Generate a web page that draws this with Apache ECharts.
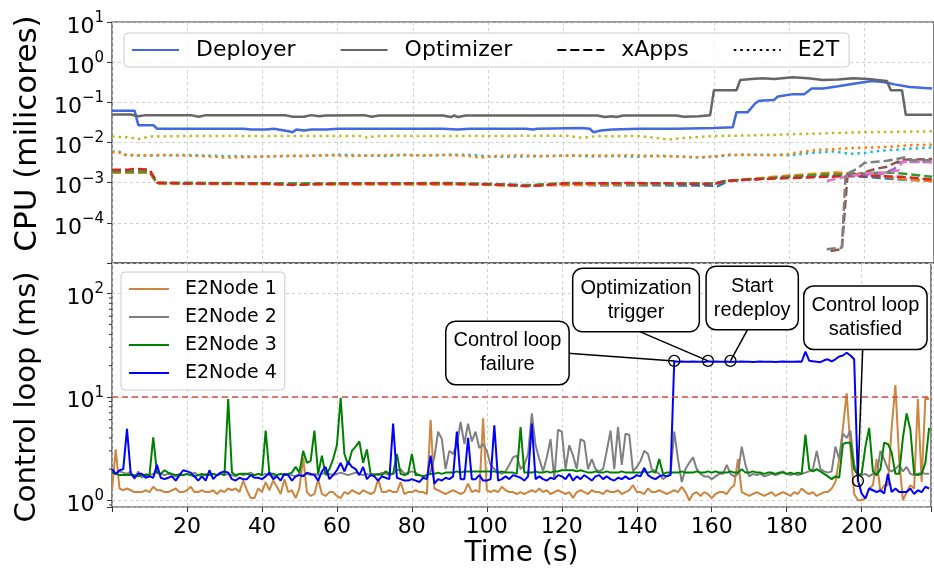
<!DOCTYPE html>
<html lang="en">
<head>
<meta charset="UTF-8">
<title>CPU usage and control loop latency</title>
<script src="https://cdn.jsdelivr.net/npm/echarts@6.0.0/dist/echarts.min.js"></script>
<style>
  html, body { margin: 0; padding: 0; background: #fff; }
  #chart { width: 934px; height: 571px; }
</style>
</head>
<body>
<div id="chart"></div>
<script>
// ---- data ----
// top panel: [time s, CPU milicores]
const deployer = [[0,0.062],[6,0.062],[7,0.027],[11,0.027],[12,0.022],[35,0.022],[37,0.021],[41,0.021],[43,0.022],[47,0.019],[48,0.018],[49,0.021],[51,0.02],[53,0.021],[57,0.021],[60,0.022],[88,0.022],[92,0.021],[95,0.022],[110,0.022],[112,0.021],[113,0.022],[125,0.023],[127,0.022],[128,0.018],[130,0.02],[133,0.021],[140,0.022],[150,0.022],[160,0.023],[165,0.024],[166,0.057],[169,0.057],[171,0.095],[172,0.11],[176,0.115],[177,0.14],[181,0.16],[184,0.16],[186,0.22],[189,0.22],[193,0.25],[198,0.3],[202,0.34],[205,0.32],[208,0.28],[212,0.24],[216,0.226],[218,0.22]];
const optimizer = [[0,0.05],[5,0.05],[7,0.045],[9,0.048],[21,0.048],[23,0.044],[25,0.048],[46,0.048],[48,0.044],[51,0.044],[53,0.048],[55,0.045],[57,0.047],[67,0.048],[69,0.044],[71,0.047],[88,0.047],[90,0.043],[91,0.047],[92,0.043],[94,0.047],[129,0.047],[131,0.043],[133,0.045],[134,0.043],[136,0.047],[150,0.047],[152,0.044],[156,0.045],[159,0.048],[160,0.2],[166,0.2],[167,0.36],[170,0.38],[173,0.4],[176,0.38],[181,0.42],[185,0.4],[189,0.36],[193,0.37],[197,0.4],[201,0.38],[206,0.34],[207,0.2],[210,0.2],[211,0.049],[218,0.049]];

const xappBlue = [[0,0.0018],[10,0.0018],[12,0.00095],[100,0.00093],[108,0.00088],[158,0.00085],[161,0.00082],[164,0.0011],[180,0.0014],[195,0.0015],[200,0.0014],[210,0.0012],[218,0.0011]];
const xappOrange = [[0,0.0018],[10,0.0018],[12,0.00095],[50,0.0009],[100,0.0009],[103,0.00085],[160,0.00095],[163,0.0011],[180,0.0015],[192,0.0018],[198,0.0017],[206,0.0014],[212,0.0012],[218,0.0011]];
const xappGreen = [[0,0.0019],[10,0.0019],[12,0.001],[30,0.00098],[50,0.00095],[90,0.00098],[100,0.00092],[110,0.00085],[120,0.00098],[160,0.00095],[163,0.0011],[180,0.0014],[190,0.0016],[196,0.0016],[200,0.0017],[206,0.0018],[210,0.0017],[218,0.0014]];
const xappRed = [[0,0.0021],[4,0.0021],[6,0.0022],[10,0.0021],[12,0.001],[20,0.00095],[40,0.00095],[48,0.00088],[52,0.0009],[60,0.00095],[90,0.00095],[95,0.00092],[105,0.00088],[110,0.00082],[114,0.00085],[120,0.00095],[140,0.00098],[150,0.00095],[160,0.00092],[163,0.0011],[170,0.0012],[180,0.0013],[190,0.0014],[200,0.0015],[210,0.0014],[218,0.0012]];
const xappPurple = [[196,0.0015],[200,0.0016],[205,0.0017],[208,0.0022],[209,0.0032],[213,0.0033],[218,0.0032]];
const xappBrown = [[191,0.00002],[194,0.000022],[195.5,0.0015],[199,0.0017],[203,0.0022],[206,0.0025],[210,0.0037],[214,0.0038],[218,0.0039]];
const xappPink = [[190,0.0011],[195,0.0014],[200,0.0017],[206,0.0018],[209,0.002],[210,0.0033],[214,0.0034],[218,0.0033]];
const xappGray = [[190,0.000022],[194,0.000024],[195,0.0016],[198,0.0022],[200,0.0031],[206,0.0035],[211,0.0043],[213,0.0036],[218,0.0036]];

const e2tOlive = [[0,0.014],[4,0.0135],[7,0.0122],[10,0.014],[20,0.0145],[40,0.0146],[66,0.0146],[68,0.013],[70,0.0145],[100,0.0145],[121,0.0148],[125,0.013],[128,0.0142],[140,0.0145],[146,0.0125],[148,0.0118],[152,0.013],[160,0.0145],[170,0.015],[180,0.016],[190,0.017],[200,0.018],[210,0.0185],[218,0.019]];
const e2tOrange = [[0,0.0058],[2,0.0056],[3,0.005],[8,0.0048],[14,0.0049],[20,0.0047],[26,0.0045],[30,0.0042],[34,0.0043],[40,0.0044],[46,0.0047],[52,0.0046],[58,0.0048],[64,0.0046],[70,0.0048],[76,0.0049],[82,0.0048],[88,0.0049],[94,0.0047],[98,0.0042],[102,0.0046],[108,0.0048],[114,0.0046],[120,0.0047],[126,0.0048],[132,0.0047],[138,0.0048],[144,0.0046],[150,0.0045],[156,0.0043],[160,0.0045],[164,0.005],[170,0.0049],[176,0.0048],[180,0.0052],[184,0.006],[188,0.0066],[192,0.0068],[196,0.0072],[200,0.0075],[204,0.0076],[208,0.008],[212,0.0085],[218,0.0088]];
const e2tCyan = [[0,0.006],[2,0.0059],[3,0.0049],[8,0.0047],[14,0.0048],[20,0.0049],[26,0.0047],[30,0.0046],[36,0.0045],[42,0.0045],[48,0.0046],[54,0.0047],[60,0.005],[66,0.0048],[72,0.0046],[78,0.0049],[84,0.0047],[90,0.005],[96,0.0049],[100,0.0045],[104,0.0044],[110,0.0045],[116,0.0046],[122,0.0047],[128,0.0045],[134,0.0046],[140,0.0044],[146,0.0047],[152,0.0044],[156,0.0042],[160,0.0044],[164,0.0048],[170,0.005],[176,0.0049],[180,0.0048],[186,0.0055],[192,0.006],[196,0.0052],[200,0.0055],[204,0.0062],[208,0.0066],[212,0.007],[218,0.0075]];

// bottom panel: control loop (ms), one sample per second from t = 0
const node1 = [
  1.25,3.1,1.3,1.25,1.3,1.25,1.2,1.2,1.2,1.25,
  1.2,1.35,1.25,1.25,1.2,1.2,1.25,1.3,1.2,1.2,
  1.25,1.35,1.2,1.2,1.25,1.2,1.2,1.25,1.15,1.25,
  1.2,1.3,1.25,1.3,1.2,1.55,1.25,1.05,1.05,1.3,
  1.2,1.5,1.25,1.55,1.35,1.15,1.6,1.2,1.25,1.05,
  1.3,2.6,1.2,1.1,1.15,1.6,1.15,1.1,1.2,1.2,
  1.1,1.05,1.2,1.15,1.25,1.2,1.15,1.25,1.2,1.15,
  1.2,1.6,1.2,1.2,1.25,1.2,1.2,1.5,1.15,1.2,
  1.2,1.25,1.2,1.2,1.15,6.0,1.3,1.25,1.2,1.15,
  1.2,1.25,1.2,1.15,1.2,1.45,1.2,1.25,1.2,6.2,
  1.25,1.2,1.25,1.2,1.35,1.25,1.2,1.2,1.15,1.2,
  1.15,1.2,1.25,1.2,1.3,1.2,1.25,1.15,1.2,1.25,
  1.2,1.15,1.2,1.05,1.2,1.25,1.2,1.15,1.25,1.2,
  1.2,1.15,1.25,1.2,1.2,1.25,1.15,1.2,1.25,1.4,
  1.2,1.2,1.15,1.3,1.2,1.2,1.25,1.2,1.15,1.2,
  1.25,1.2,1.35,1.2,1.0,1.15,1.2,1.1,1.2,1.15,
  1.05,1.15,1.2,1.2,1.15,1.3,1.4,2.5,1.2,1.15,
  1.1,1.15,1.2,1.15,1.1,1.15,1.2,1.1,1.15,1.2,
  1.15,1.1,1.2,1.15,1.3,1.2,1.15,1.2,1.1,1.15,
  1.2,1.2,1.3,1.5,2.5,5.0,10.8,3.2,1.15,1.0,
  1.0,1.05,1.3,1.4,2.5,1.2,1.4,1.4,5.0,13.0,
  2.5,1.0,1.2,1.4,1.3,9.5,1.5,9.8,9.5
];
const node2 = [
  1.85,1.8,1.9,1.85,1.8,1.9,1.6,1.9,1.65,1.8,
  1.75,1.8,1.85,1.8,1.75,1.8,1.75,1.7,1.8,1.75,
  1.8,1.75,1.85,1.75,1.7,1.8,1.75,1.8,1.75,1.8,
  1.75,1.8,1.75,1.7,1.8,1.75,1.8,1.85,1.75,1.8,
  1.75,1.8,1.75,1.7,1.75,1.8,1.75,1.8,1.75,1.7,
  1.8,1.75,1.8,1.75,1.8,1.75,1.8,1.85,1.8,1.75,
  1.8,1.85,1.8,1.75,1.8,1.85,1.8,1.75,1.8,1.75,
  1.8,1.75,1.85,1.8,1.75,1.8,1.95,2.0,1.8,1.85,
  1.9,1.85,1.75,1.7,1.75,1.9,2.6,4.6,3.9,2.0,
  3.0,2.8,3.4,5.7,3.5,5.5,3.7,4.6,3.2,3.5,
  3.0,2.2,2.0,1.9,1.8,1.9,2.2,2.6,2.7,2.0,
  2.2,2.8,6.9,3.4,2.5,1.9,2.6,3.9,1.6,4.8,
  4.6,2.0,3.4,2.7,2.0,3.9,3.7,2.0,2.5,2.0,
  1.9,2.0,3.0,4.7,2.0,5.1,2.2,4.4,4.3,1.9,
  2.1,2.4,3.0,2.8,2.0,1.9,1.8,1.6,1.7,1.8,
  4.6,2.5,1.5,2.0,2.3,2.6,2.0,1.8,1.7,1.7,
  1.6,1.7,1.8,1.8,2.2,1.8,1.7,1.8,3.3,2.2,
  1.7,1.8,1.75,1.8,1.7,1.75,1.8,1.75,1.8,1.9,
  1.8,1.75,1.8,1.75,1.8,1.85,1.9,2.0,3.0,2.0,
  1.9,1.85,1.9,3.3,2.5,4.4,4.0,4.7,2.2,1.8,
  1.75,1.8,1.7,1.8,1.75,3.0,2.5,2.0,1.9,2.0,
  2.2,1.9,2.1,1.8,1.75,1.8,1.85,1.8,1.8
];
const node3 = [
  1.85,1.8,1.75,1.75,1.75,1.75,1.75,1.7,1.75,1.75,
  1.75,4.05,1.85,1.8,1.95,1.85,1.8,1.75,1.75,1.75,
  1.8,1.75,1.7,1.75,1.8,1.75,1.75,1.8,1.75,1.8,
  1.75,9.5,1.85,1.75,1.8,1.8,1.8,1.75,1.75,1.8,
  1.75,4.7,1.8,1.8,1.75,1.8,1.75,1.8,1.85,2.1,
  1.85,3.0,2.3,2.4,4.7,1.8,2.7,1.75,2.0,2.5,
  3.4,9.7,2.8,2.2,3.0,3.3,3.7,2.3,3.1,1.8,
  1.75,1.8,1.75,1.9,1.8,1.8,2.8,1.8,1.75,1.8,
  2.8,1.75,1.75,1.7,1.75,1.8,1.8,1.85,1.8,1.85,
  1.85,1.85,1.9,1.85,1.9,1.9,1.9,1.9,1.9,1.9,
  1.9,1.9,1.9,1.85,1.9,1.85,1.85,1.85,1.8,5.1,
  1.85,1.85,1.85,1.9,1.85,1.85,1.9,1.85,1.9,1.9,
  1.95,1.95,1.95,1.95,1.9,1.95,1.9,1.85,1.85,1.9,
  1.85,1.85,1.9,1.85,1.85,1.85,1.9,1.85,1.85,1.85,
  1.85,1.85,1.9,1.85,1.9,1.85,2.5,1.8,1.85,1.85,
  1.85,1.85,1.9,1.85,1.85,1.85,1.9,1.85,1.85,1.9,
  1.85,1.9,1.85,1.85,1.85,1.9,1.85,1.85,2.0,1.85,
  1.85,1.9,1.85,1.85,1.8,1.85,1.85,1.8,1.85,1.85,
  1.8,1.85,1.8,1.85,1.8,4.3,2.0,1.9,2.0,1.9,
  1.8,1.7,1.6,1.7,1.65,3.5,3.6,3.6,2.0,1.75,
  1.8,3.3,5.0,1.9,1.75,2.0,3.6,3.5,2.9,1.8,
  1.8,4.0,6.9,4.8,1.8,1.75,1.8,2.3,5.0
];
const node4 = [
  2.0,1.8,1.95,2.0,4.9,1.8,1.65,1.8,1.8,1.65,
  1.7,1.65,2.2,1.65,1.6,1.65,1.7,1.55,1.75,1.95,
  1.9,1.85,1.7,1.55,1.7,1.55,1.95,1.6,1.75,1.85,
  1.9,1.85,1.6,1.55,1.65,1.6,1.6,1.75,1.65,1.65,
  1.6,1.7,1.85,1.6,1.7,1.55,1.8,1.75,1.55,1.7,
  1.75,1.7,1.85,1.8,1.75,1.55,1.9,2.1,1.6,1.75,
  1.95,2.3,1.9,2.35,2.1,2.0,1.75,2.1,1.6,1.75,
  1.7,1.55,1.7,1.65,1.6,5.5,1.65,1.6,1.55,1.55,
  1.6,1.55,1.5,1.65,1.6,2.7,1.45,1.6,1.55,1.65,
  1.6,1.7,4.6,1.6,1.6,4.0,1.6,1.6,1.75,1.55,
  1.55,1.6,5.3,1.55,1.6,1.7,1.6,1.75,1.7,1.65,
  1.55,1.7,5.5,1.6,1.7,1.6,1.55,1.65,1.6,1.75,
  1.7,1.6,1.8,1.55,1.7,1.6,1.75,1.65,1.55,1.7,
  1.75,1.6,1.7,1.6,1.55,1.65,1.6,1.7,1.6,1.65,
  1.75,1.7,2.05,1.75,1.65,1.6,1.7,1.75,1.7,1.75,
  22.0,21.8,21.9,21.8,21.8,21.9,21.8,21.8,21.7,22.0,
  21.8,21.9,21.8,21.8,21.9,21.7,21.8,21.8,21.9,21.8,
  21.8,21.7,21.8,21.9,21.8,21.8,21.8,21.7,21.8,21.9,
  21.8,21.8,21.8,21.9,21.8,27.3,22.3,22.0,21.8,21.6,
  22.5,23.0,22.0,23.0,24.5,25.0,26.6,25.0,23.0,1.55,
  1.16,1.04,1.3,1.25,1.2,1.25,1.16,1.8,1.2,1.3,
  1.2,1.2,1.2,1.3,1.15,1.25,1.2,1.35,1.3
];
const limitMs = 10;

// annotated events [time s, control loop ms]
const eventPoints = [[150, 22.2], [159, 22.2], [165, 22.2], [199, 1.54]];
const eventLabels = ['Control loop\nfailure', 'Optimization\ntrigger', 'Start\nredeploy', 'Control loop\nsatisfied'];
// where each box sits and where its connector leaves it (data coords of the lower panel)
const boxAt = [[105.5, 26.5], [139.8, 86], [170.8, 90], [201, 58]];
const lineFrom = [[121.6, 26.3], [140.8, 42.6], [170, 47.6], [200.3, 31]];

const minorTicks = [0.9, 2, 3, 4, 5, 6, 7, 8, 9, 20, 30, 40, 50, 60, 70, 80, 90];

// ---- chart ----
const font = 'DejaVu Sans';
const myChart = echarts.init(document.getElementById('chart'));

const dash = [9, 4];
const dot = [2.5, 4];

function logLabel(v) {
  const l = Math.log10(v);
  const e = Math.round(l);
  if (Math.abs(l - e) > 1e-6) return '';
  return '{b|10}{e|' + (e < 0 ? '\u2212' + (-e) : e) + '}';
}
const logRich = {
  b: { fontSize: 22, fontFamily: font, color: '#000', padding: [10, 0, 0, 0] },
  e: { fontSize: 15, fontFamily: font, color: '#000', padding: [0, 0, 8, 0] }
};

function line(name, data, color, type, width, idx) {
  return {
    name: name, type: 'line', xAxisIndex: idx, yAxisIndex: idx,
    data: data, symbol: 'none', showSymbol: false,
    itemStyle: { color: color },
    lineStyle: { color: color, width: width, type: type },
    emphasis: { disabled: true }
  };
}

const perSecond = arr => arr.map((v, i) => [i, v]);

const gridLine = { show: true, lineStyle: { color: '#c4c4c4', type: [3, 3], width: 0.8 } };

const series = [
  line('xApp 1', xappBlue, '#1f77b4', dash, 2.5, 0),
  line('xApp 2', xappOrange, '#ff7f0e', dash, 2.5, 0),
  line('xApp 3', xappGreen, '#2ca02c', dash, 2.5, 0),
  line('xApp 4', xappRed, '#d62728', dash, 2.5, 0),
  line('xApp 5', xappPurple, '#9467bd', dash, 2.5, 0),
  line('xApp 6', xappBrown, '#8c564b', dash, 2.5, 0),
  line('xApp 7', xappPink, '#e377c2', dash, 2.5, 0),
  line('xApp 8', xappGray, '#7f7f7f', dash, 2.5, 0),
  line('E2T 1', e2tOlive, '#bcbd22', dot, 2.5, 0),
  line('E2T 2', e2tCyan, '#17becf', dot, 2.5, 0),
  line('E2T 3', e2tOrange, '#ff7f0e', dot, 2.5, 0),
  line('Deployer', deployer, '#4169e1', 'solid', 2.5, 0),
  line('Optimizer', optimizer, '#666666', 'solid', 2.5, 0),
  line('xApps', [], '#000', dash, 2.5, 0),
  line('E2T', [], '#000', dot, 2.5, 0),
  Object.assign(line('E2Node 1', perSecond(node1), '#cd853f', 'solid', 2, 1), {
    markLine: {
      silent: true, symbol: 'none', label: { show: false },
      lineStyle: { color: '#d0504c', type: [6, 4], width: 1.5 },
      data: [{ yAxis: limitMs }]
    }
  }),
  line('E2Node 2', perSecond(node2), '#808080', 'solid', 2, 1),
  line('E2Node 3', perSecond(node3), '#008000', 'solid', 2, 1),
  line('E2Node 4', perSecond(node4), '#0000ff', 'solid', 2, 1),
  {
    type: 'custom', xAxisIndex: 1, yAxisIndex: 1, silent: true,
    data: minorTicks.map(v => [0, v]),
    renderItem: function (params, api) {
      const p = api.coord([api.value(0), api.value(1)]);
      return { type: 'line', shape: { x1: p[0] - 3, y1: p[1], x2: p[0], y2: p[1] },
        style: { stroke: '#333', lineWidth: 1 } };
    }
  },
  {
    type: 'custom', xAxisIndex: 1, yAxisIndex: 1, silent: true, z: 10,
    data: eventPoints,
    renderItem: function (params, api) {
      const i = params.dataIndex;
      const p = api.coord([api.value(0), api.value(1)]);
      const a = api.coord(lineFrom[i]);
      const b = api.coord(boxAt[i]);
      return {
        type: 'group',
        children: [
          { type: 'line', shape: { x1: a[0], y1: a[1], x2: p[0], y2: p[1] },
            style: { stroke: '#000', lineWidth: 1.5 } },
          { type: 'circle', shape: { cx: p[0], cy: p[1], r: 5.5 },
            style: { fill: 'none', stroke: '#000', lineWidth: 1.3 } },
          { type: 'text', x: b[0], y: b[1],
            style: {
              text: eventLabels[i], fontSize: 20, fontFamily: 'Liberation Sans',
              fill: '#000', align: 'center', verticalAlign: 'middle', lineHeight: 24,
              backgroundColor: '#fff', borderColor: '#000', borderWidth: 1.5,
              borderRadius: 9, padding: [7, 7]
            } }
        ]
      };
    }
  }
];

const legendBase = {
  selectedMode: false,
  backgroundColor: 'rgba(255,255,255,0.8)', borderColor: '#cccccc', borderWidth: 1, borderRadius: 4,
  itemStyle: { opacity: 0 }
};

const option = {
  animation: false,
  backgroundColor: '#fff',
  grid: [
    { left: 112, top: 22, width: 824, height: 241, show: true, borderColor: '#333', borderWidth: 1.2 },
    { left: 112, top: 263, width: 824, height: 244, show: true, borderColor: '#333', borderWidth: 1.2 }
  ],
  legend: [
    Object.assign({}, legendBase, {
      data: ['Deployer', 'Optimizer', 'xApps', 'E2T'],
      left: 124, top: 33, orient: 'horizontal',
      itemWidth: 47, itemHeight: 14, itemGap: 44, padding: [6, 10, 6, 7],
      textStyle: { fontSize: 22, fontFamily: font, color: '#000', padding: [0, 0, 0, 12] }
    }),
    Object.assign({}, legendBase, {
      data: ['E2Node 1', 'E2Node 2', 'E2Node 3', 'E2Node 4'],
      left: 121, top: 272, orient: 'vertical',
      itemWidth: 40, itemHeight: 14, itemGap: 6, padding: [6, 8, 6, 7],
      textStyle: { fontSize: 19, lineHeight: 22, fontFamily: font, color: '#000', padding: [0, 0, 0, 11] }
    })
  ],
  xAxis: [
    {
      gridIndex: 0, type: 'value', min: 0, max: 218.5, interval: 20,
      axisLine: { show: false }, axisTick: { show: false }, axisLabel: { show: false },
      splitLine: gridLine
    },
    {
      gridIndex: 1, type: 'value', min: 0, max: 218.5, interval: 20,
      axisLine: { show: false },
      axisTick: { show: true, length: 5, lineStyle: { color: '#333' } },
      axisLabel: {
        fontSize: 22, fontFamily: font, color: '#000', margin: 9,
        formatter: v => (v > 0 && v % 20 === 0 ? String(v) : '')
      },
      splitLine: gridLine,
      name: 'Time (s)', nameLocation: 'middle', nameGap: 33,
      nameTextStyle: { fontSize: 28, fontFamily: font, color: '#000' }
    }
  ],
  yAxis: [
    {
      gridIndex: 0, type: 'log', logBase: 10, min: 1e-5, max: 10,
      axisLine: { show: false },
      axisTick: { show: true, length: 5, lineStyle: { color: '#333' } },
      axisLabel: { formatter: logLabel, rich: logRich, margin: 8, showMinLabel: false },
      splitLine: gridLine,
      name: 'CPU (milicores)', nameLocation: 'middle', nameGap: 69,
      nameTextStyle: { fontSize: 31, fontFamily: font, color: '#000', padding: [0, 0, 0, 18] }
    },
    {
      gridIndex: 1, type: 'log', logBase: 10, min: 0.861, max: 196,
      axisLine: { show: false },
      axisTick: { show: true, length: 5, lineStyle: { color: '#333' } },
      axisLabel: { formatter: logLabel, rich: logRich, margin: 8 },
      splitLine: gridLine,
      name: 'Control loop (ms)', nameLocation: 'middle', nameGap: 70,
      nameTextStyle: { fontSize: 29, fontFamily: font, color: '#000', padding: [0, 24, 0, 0] }
    }
  ],
  series: series
};

myChart.setOption(option);

window.onresize = function () {
  myChart.resize();
};
</script>
</body>
</html>
